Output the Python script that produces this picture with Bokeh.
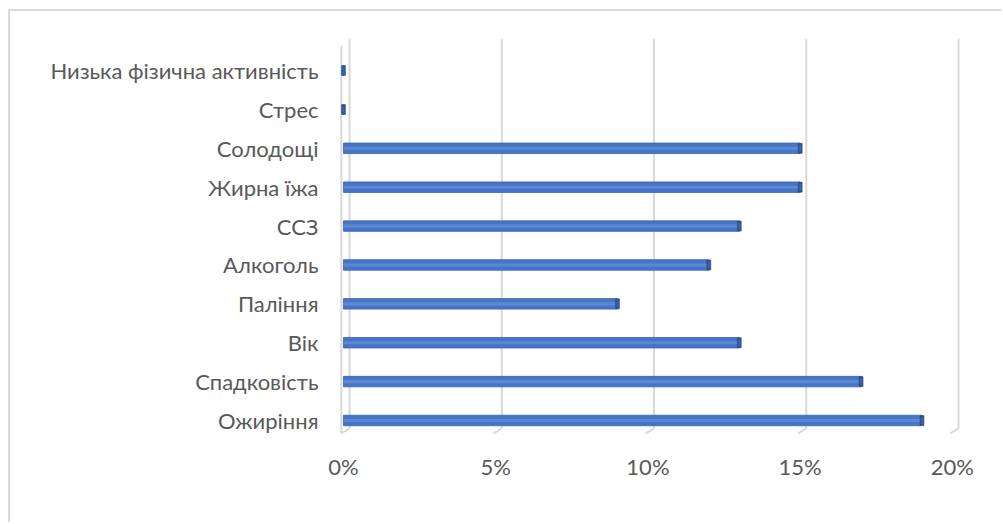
from bokeh.plotting import figure
from bokeh.models import Range1d, FixedTicker, ColumnDataSource
from bokeh.embed import file_html
from bokeh.resources import INLINE

# Risk factors (bottom to top) and their share, in percent
categories = ["Ожиріння", "Спадковість", "Вік", "Паління", "Алкоголь",
              "ССЗ", "Жирна їжа", "Солодощі", "Стрес", "Низька фізична активність"]
shares = [19, 17, 13, 9, 12, 13, 15, 15, 0, 0]
x_ticks = [0, 5, 10, 15, 20]
x_tick_labels = ["0%", "5%", "10%", "15%", "20%"]

FONT = "Lato"
TEXT = "#595959"
GRID = "#d9d9d9"

ypos = list(range(len(categories)))

p = figure(width=993, height=513, output_backend="svg", toolbar_location=None,
           x_range=Range1d(-0.59, 20.43), y_range=Range1d(-0.566, 10.03),
           min_border_left=315, min_border_right=38, min_border_top=19,
           min_border_bottom=82, margin=(9, 0, 0, 8),
           styles={"border-top": "2px solid #d9d9d9", "border-left": "2px solid #d9d9d9"})
p.outline_line_color = None
p.xgrid.visible = False
p.ygrid.visible = False

# 3D-style gridlines: back-wall verticals with a short diagonal to the floor front
depth_back = 0.2
depth_front = -0.07
y_top, y_back, y_front = 9.82, -0.206, -0.334
gx_back = [t + depth_back for t in x_ticks]
gx_front = [t + depth_front for t in x_ticks]
p.segment(x0=gx_back, y0=[y_top] * len(x_ticks), x1=gx_back, y1=[y_back] * len(x_ticks),
          line_color=GRID, line_width=2)
p.segment(x0=gx_back, y0=[y_back] * len(x_ticks), x1=gx_front, y1=[y_front] * len(x_ticks),
          line_color=GRID, line_width=2)
# left side wall front edge
p.segment(x0=[depth_front], y0=[9.64], x1=[depth_front], y1=[y_front],
          line_color=GRID, line_width=2)

src = ColumnDataSource(dict(y=ypos, v=shares, cat=categories))

# bar body with a lighter middle band
p.hbar(y="y", left=0, right="v", height=0.27, source=src,
       fill_color="#4674c6", line_color="#3a63ad", line_width=0.8)
p.hbar(y="y", left=0, right="v", height=0.08, source=src,
       fill_color="#5d89d2", line_color=None)
# end caps
p.rect(x="v", y="y", width=4, height=10, width_units="screen", height_units="screen",
       source=src, fill_color="#2c4f8c", line_color="#2c4f8c", line_width=0.5)
p.rect(x="v", y="y", width=2, height=7, width_units="screen", height_units="screen",
       source=src, fill_color="#3b64ac", line_color=None)

# axes
p.xaxis.ticker = FixedTicker(ticks=x_ticks)
p.xaxis.major_label_overrides = {t: l for t, l in zip(x_ticks, x_tick_labels)}
p.yaxis.ticker = FixedTicker(ticks=ypos)
p.yaxis.major_label_overrides = {i: c for i, c in zip(ypos, categories)}
for ax in (p.xaxis[0], p.yaxis[0]):
    ax.axis_line_color = None
    ax.major_tick_line_color = None
    ax.minor_tick_line_color = None
    ax.major_label_text_font = FONT
    ax.major_label_text_font_size = "22px"
    ax.major_label_text_color = TEXT
p.xaxis.major_label_standoff = 4
p.yaxis.major_label_standoff = 1

open("out.html", "w").write(file_html(p, INLINE))
